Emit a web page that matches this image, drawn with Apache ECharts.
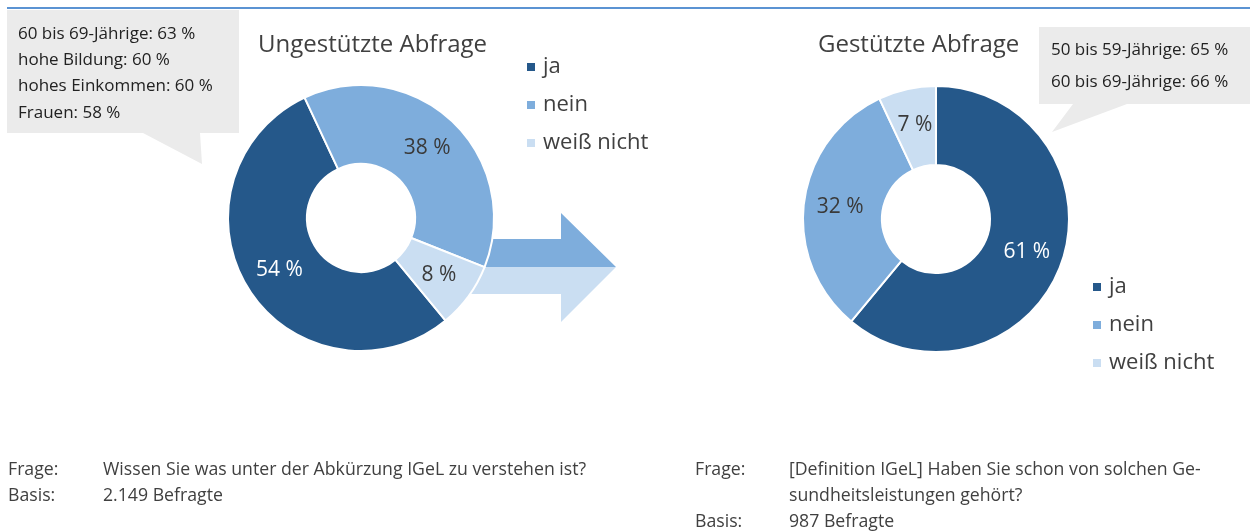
<!DOCTYPE html>
<html>
<head>
<meta charset="utf-8">
<script src="https://cdn.jsdelivr.net/npm/echarts@6/dist/echarts.min.js"></script>
<style>
html,body{margin:0;padding:0;background:#fff;}
#chart{width:1250px;height:531px;}
</style>
</head>
<body>
<div id="chart"></div>
<script>
const categories = ['ja', 'nein', 'weiß nicht'];
const ungestuetztValues = [54, 38, 8];
const gestuetztValues = [61, 32, 7];
const chartTitles = ['Ungestützte Abfrage', 'Gestützte Abfrage'];
const calloutLeftLines = ['60 bis 69-Jährige: 63 %', 'hohe Bildung: 60 %', 'hohes Einkommen: 60 %', 'Frauen: 58 %'];
const calloutRightLines = ['50 bis 59-Jährige: 65 %', '60 bis 69-Jährige: 66 %'];
const noteLeft = [['Frage:', 'Wissen Sie was unter der Abkürzung IGeL zu verstehen ist?'], ['Basis:', '2.149 Befragte']];
const noteRight = [['Frage:', '[Definition IGeL] Haben Sie schon von solchen Ge-'], ['', 'sundheitsleistungen gehört?'], ['Basis:', '987 Befragte']];

const colors = ['#25588a', '#7eaddc', '#cadef2'];
const FONT = 'Open Sans';
const TXT = '#404040';

function pieData(vals) {
  return categories.map((c, i) => ({
    name: c, value: vals[i],
    itemStyle: { color: colors[i] },
    label: { color: i === 0 ? '#ffffff' : '#3a3a3a' }
  }));
}

const graphics = [];
// top line
graphics.push({ type: 'line', z: 1, shape: { x1: 7, y1: 8, x2: 1250, y2: 8 }, style: { stroke: '#5b93d3', lineWidth: 2 } });
// callout boxes
graphics.push({ type: 'polygon', z: 1, shape: { points: [[7,10],[239,10],[239,133],[200,133],[202,164],[143,133],[7,133]] }, style: { fill: '#ebebeb' } });
graphics.push({ type: 'polygon', z: 1, shape: { points: [[1039,27],[1250,27],[1250,104],[1127,104],[1052,132],[1073,104],[1039,104]] }, style: { fill: '#ebebeb' } });
calloutLeftLines.forEach((t, i) => {
  graphics.push({ type: 'text', z: 3, x: 18, y: 34 + i * 26.3, style: { text: t, font: '17px "' + FONT + '"', fill: '#222', verticalAlign: 'middle' } });
});
calloutRightLines.forEach((t, i) => {
  graphics.push({ type: 'text', z: 3, x: 1051, y: 50 + i * 32.5, style: { text: t, font: '17px "' + FONT + '"', fill: '#222', verticalAlign: 'middle' } });
});
// arrow (behind the left donut)
graphics.push({ type: 'polygon', z: 0, shape: { points: [[440,239],[561,239],[561,213],[616,267],[440,267]] }, style: { fill: colors[1] } });
graphics.push({ type: 'polygon', z: 0, shape: { points: [[440,267],[616,267],[561,322],[561,294],[440,294]] }, style: { fill: colors[2] } });
// footnotes
const NOTE_FONT = '17.7px "' + FONT + '"';
noteLeft.forEach((r, i) => {
  graphics.push({ type: 'text', x: 8, y: 470 + i * 26, style: { text: r[0], font: NOTE_FONT, fill: TXT, verticalAlign: 'middle' } });
  graphics.push({ type: 'text', x: 103, y: 470 + i * 26, style: { text: r[1], font: NOTE_FONT, fill: TXT, verticalAlign: 'middle' } });
});
noteRight.forEach((r, i) => {
  graphics.push({ type: 'text', x: 695, y: 470 + i * 26, style: { text: r[0], font: NOTE_FONT, fill: TXT, verticalAlign: 'middle' } });
  graphics.push({ type: 'text', x: 789, y: 470 + i * 26, style: { text: r[1], font: NOTE_FONT, fill: TXT, verticalAlign: 'middle' } });
});

const legendCommon = {
  orient: 'vertical', icon: 'rect', itemWidth: 10, itemHeight: 10, itemGap: 14,
  padding: 0, selectedMode: false, data: categories,
  textStyle: { fontFamily: FONT, fontSize: 22, color: TXT, lineHeight: 24, padding: [0, 0, 0, 2] }
};

const seriesCommon = {
  type: 'pie', radius: [54, 133], clockwise: true, animation: false,
  itemStyle: { borderColor: '#ffffff', borderWidth: 2 },
  label: { show: true, position: 'inside', formatter: '{c} %', fontFamily: FONT, fontSize: 21 },
  labelLine: { show: false },
  emphasis: { disabled: true }
};

const option = {
  animation: false,
  title: [
    { text: chartTitles[0], left: 258, top: 31, padding: 0, textStyle: { fontFamily: FONT, fontSize: 24, fontWeight: 'normal', color: TXT, lineHeight: 28 } },
    { text: chartTitles[1], left: 818, top: 31, padding: 0, textStyle: { fontFamily: FONT, fontSize: 24, fontWeight: 'normal', color: TXT, lineHeight: 28 } }
  ],
  legend: [
    Object.assign({}, legendCommon, { left: 525, top: 55 }),
    Object.assign({}, legendCommon, { left: 1091, top: 275 })
  ],
  series: [
    Object.assign({}, seriesCommon, { name: chartTitles[0], center: [361, 218], startAngle: 309.5, data: pieData(ungestuetztValues) }),
    Object.assign({}, seriesCommon, { name: chartTitles[1], center: [936, 219], startAngle: 90, data: pieData(gestuetztValues) })
  ],
  graphic: graphics
};

const chart = echarts.init(document.getElementById('chart'), null, { renderer: 'canvas' });
chart.setOption(option);
</script>
</body>
</html>
